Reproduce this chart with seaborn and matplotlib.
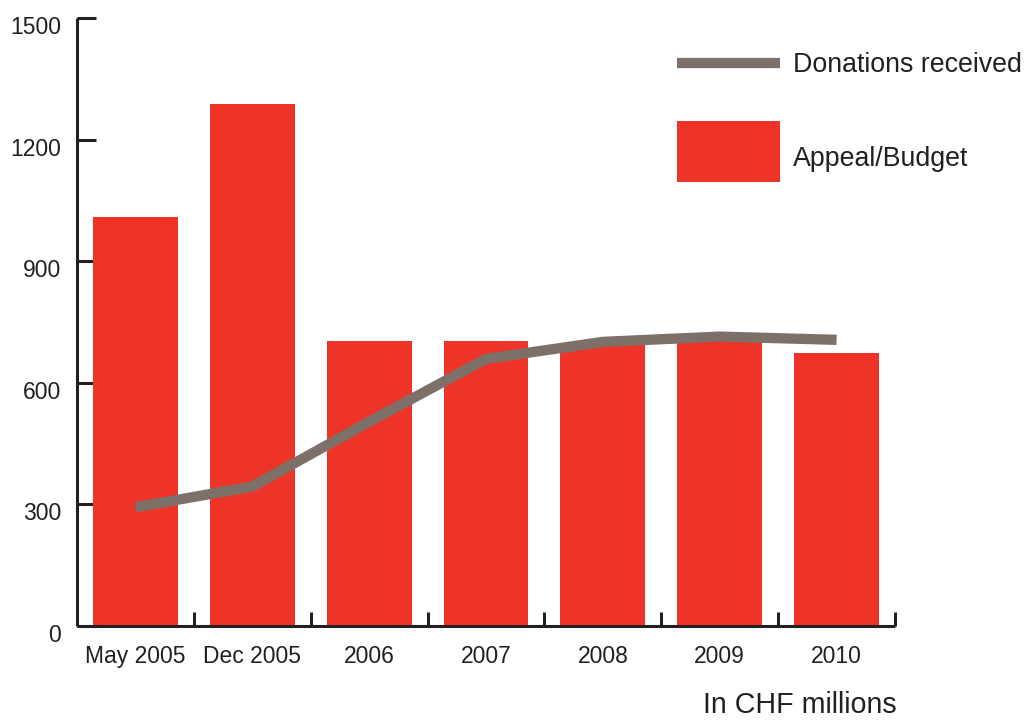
import matplotlib
matplotlib.use("Agg")
import matplotlib.pyplot as plt
from matplotlib.lines import Line2D
from matplotlib.patches import Patch, Rectangle
from matplotlib.legend_handler import HandlerPatch
from matplotlib.transforms import ScaledTranslation
import numpy as np
import pandas as pd
import seaborn as sns

periods = ["May 2005", "Dec 2005", "2006", "2007", "2008", "2009", "2010"]
appeal_budget = [1010, 1288, 702, 702, 693, 702, 674]
donations_received = [293, 344, 504, 659, 701, 714, 706]
y_ticks = [0, 300, 600, 900, 1200, 1500]

BAR_RED = "#ee3429"
LINE_GREY = "#7d7068"
INK = "#231f20"

sns.set_theme(style="white")
plt.rcParams["font.family"] = ["Liberation Sans", "DejaVu Sans"]

fig = plt.figure(figsize=(10.27, 7.2), dpi=100)
ax = fig.add_axes([77 / 1027, 94 / 720, 818 / 1027, 608 / 720])
ax.set_axisbelow(True)

df = pd.DataFrame({"period": periods, "appeal": appeal_budget,
                   "pos": np.arange(len(periods)), "donations": donations_received})

sns.barplot(data=df, x="period", y="appeal", color=BAR_RED, saturation=1,
            width=0.727, ax=ax, zorder=2)
for p in ax.patches:
    p.set_edgecolor("none")

sns.lineplot(data=df, x="pos", y="donations", color=LINE_GREY, linewidth=7.4,
             ax=ax, zorder=3, solid_capstyle="butt", solid_joinstyle="miter")

ax.set_xlim(-0.5, len(periods) - 0.5)
ax.set_ylim(0, 1500)
ax.set_xlabel("")
ax.set_ylabel("")

# y axis: inward ticks, labels sitting slightly below their tick
ax.set_yticks(y_ticks)
ax.set_yticklabels([str(v) for v in y_ticks])
ax.tick_params(axis="y", direction="in", length=14, width=2.2, color=INK,
               labelsize=16.5, labelcolor=INK, pad=11.5, left=True)
shift_down = ScaledTranslation(0, -7 / 100, fig.dpi_scale_trans)
for lab in ax.get_yticklabels():
    lab.set_transform(lab.get_transform() + shift_down)

# x axis: labels at category centres, tick marks at category boundaries
ax.set_xticks(np.arange(len(periods)))
ax.set_xticklabels(periods)
ax.tick_params(axis="x", which="major", length=0, labelsize=16.5,
               labelcolor=INK, pad=14)
ax.set_xticks(np.arange(len(periods)) + 0.5, minor=True)
ax.tick_params(axis="x", which="minor", direction="in", length=10, width=2.2,
               color=INK, bottom=True)

for side in ["top", "right"]:
    ax.spines[side].set_visible(False)
for side in ["left", "bottom"]:
    ax.spines[side].set_color(INK)
    ax.spines[side].set_linewidth(2.2)
    ax.spines[side].set_capstyle("butt")
    ax.spines[side].set_zorder(4)


def raised_swatch(legend, orig_handle, xdescent, ydescent, width, height, fontsize):
    # swatch lifted a little so its label sits lower against it
    return Rectangle((-xdescent, -ydescent + 5.0), width, height)


# two single-entry legends so each swatch can have its own height
legend_style = dict(loc="upper left", bbox_transform=fig.transFigure,
                    frameon=False, fontsize=19.3, handlelength=3.84,
                    handletextpad=0.48, borderpad=0, borderaxespad=0,
                    labelcolor=INK)
line_legend = ax.legend(
    [Line2D([0], [0], color=LINE_GREY, linewidth=7.4, solid_capstyle="butt")],
    ["Donations received"], bbox_to_anchor=(677 / 1027, 1 - 52 / 720),
    handleheight=0.7, **legend_style)
ax.add_artist(line_legend)
budget_patch = Patch(facecolor=BAR_RED, edgecolor="none")
ax.legend([budget_patch], ["Appeal/Budget"],
          bbox_to_anchor=(677 / 1027, 1 - 128 / 720), handleheight=3.125,
          handler_map={budget_patch: HandlerPatch(patch_func=raised_swatch)},
          **legend_style)

fig.text(897 / 1027, 1 - 705 / 720, "In CHF millions", ha="right", va="center",
         fontsize=20.6, color=INK)

fig.savefig("out.png", dpi=100, facecolor="white")
